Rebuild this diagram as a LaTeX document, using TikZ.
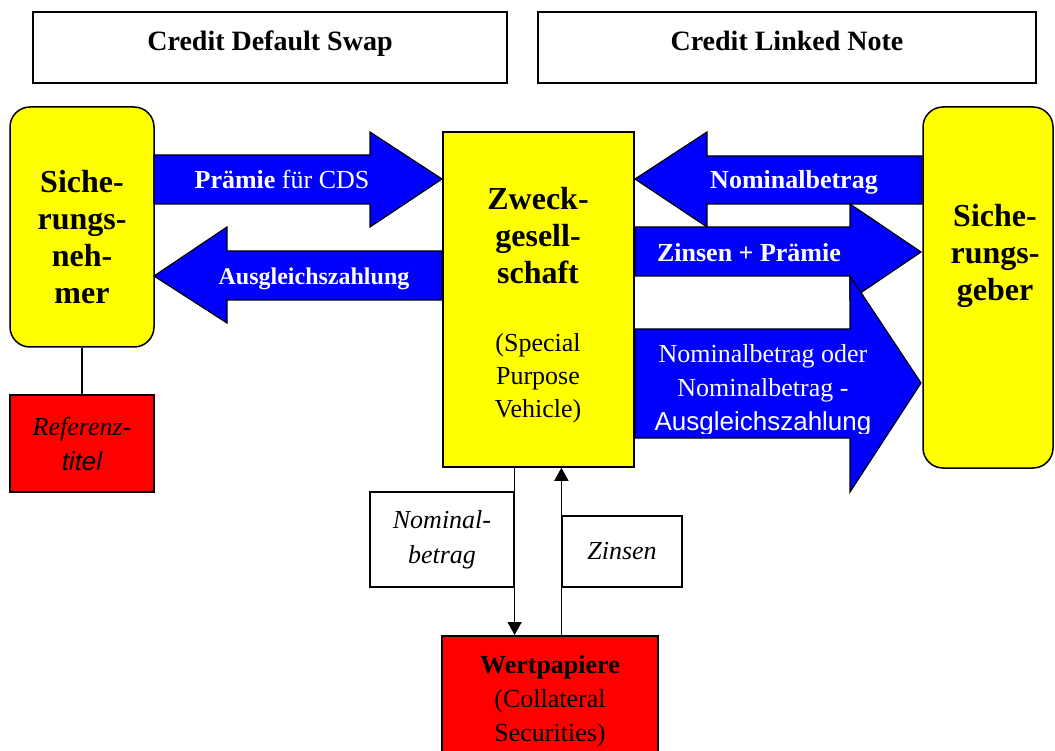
\documentclass[tikz,border=0pt]{standalone}
\usepackage{fontspec}
\setmainfont{Liberation Serif}
\setsansfont{Liberation Sans}
\usetikzlibrary{arrows.meta, positioning, calc}
\definecolor{cYellow}{RGB}{255,255,0}
\definecolor{cBlue}{RGB}{0,0,255}
\definecolor{cRed}{RGB}{255,0,0}

\begin{document}
\begin{tikzpicture}[x=1pt, y=-1pt,
    titlebox/.style={draw=black, line width=1.8pt, minimum height=71pt, inner sep=0pt,
      text height=20pt, text depth=13pt, font=\fontsize{28}{32}\selectfont\bfseries},
    party/.style={draw=black, line width=1.5pt, fill=cYellow, rounded corners=20pt, inner sep=0pt},
    spvbox/.style={draw=black, line width=1.5pt, fill=cYellow, inner sep=0pt},
    redbox/.style={draw=black, line width=1.5pt, fill=cRed, inner sep=0pt, align=center,
      font=\fontsize{26}{35}\selectfont},
    notebox/.style={draw=black, line width=1.2pt, fill=white, inner sep=0pt, align=center,
      font=\fontsize{26}{35}\selectfont\itshape},
    bigtxt/.style={inner sep=0pt, align=center, font=\fontsize{32}{37}\selectfont\bfseries},
    arrowlbl/.style={inner sep=0pt, text=white, align=center, font=\fontsize{26}{34}\selectfont},
    blockarrow/.style={draw=black, line width=1.2pt, fill=cBlue, line join=miter},
    flow/.style={line width=1.5pt, -{Triangle[length=13pt, width=14pt]}}]
  \useasboundingbox (0,0) rectangle (1055,751);

  % Kopfzeilen
  \node[titlebox, minimum width=474pt] (cds) at (270,47.5) {Credit Default Swap};
  \node[titlebox, minimum width=498pt] (cln) at (787,47.5) {Credit Linked Note};

  % Beteiligte
  \node[party, minimum width=144pt, minimum height=240pt] (nehmer) at (82,227) {};
  \node[party, minimum width=130pt, minimum height=361pt] (geber) at (988,287.5) {};
  \node[spvbox, minimum width=191pt, minimum height=335pt] (spv) at (538.5,299.5) {};
  \node[redbox, minimum width=144pt, minimum height=97pt] (ref) at (82,443.5)
    {{\itshape Referenz-}\\{\sffamily\itshape titel}};
  \node[redbox, minimum width=216pt, minimum height=160pt, anchor=north] (wp) at (550,635) {};

  \node[bigtxt] (nehmertxt) at (82,237.5) {Siche-\\rungs-\\neh-\\mer};
  \node[bigtxt] (gebertxt) at (995,255.5) {Siche-\\rungs-\\geber};
  \node[bigtxt] (spvtxt) at (538,236) {Zweck-\\gesell-\\schaft};
  \node[inner sep=0pt, align=center, font=\fontsize{26}{33}\selectfont] (spvsub) at (538,378.5)
    {(Special\\Purpose\\Vehicle)};
  \node[inner sep=0pt, align=center, font=\fontsize{26}{34}\selectfont] (wptxt) at (550,701)
    {\textbf{Wertpapiere}\\(Collateral\\Securities)};

  % Zahlungsstroeme CDS
  \draw[blockarrow] (154,155) -- (370,155) -- (370,132) -- (442,179) -- (370,227)
    -- (370,204) -- (154,204) -- cycle;
  \draw[blockarrow] (442,251) -- (227,251) -- (227,227) -- (154,276) -- (227,323)
    -- (227,300) -- (442,300) -- cycle;
  \node[arrowlbl, anchor=base] (praemie) at (282,189) {\textbf{Prämie} für CDS};
  \node[arrowlbl, anchor=base, font=\fontsize{24}{28}\selectfont\bfseries] (ausgl) at (314,285)
    {Ausgleichszahlung};

  % Zahlungsstroeme CLN
  \draw[blockarrow] (922,156) -- (707,156) -- (707,132) -- (635,179) -- (707,227)
    -- (707,204) -- (922,204) -- cycle;
  \draw[blockarrow] (635,227) -- (850,227) -- (850,204) -- (921,252) -- (850,300)
    -- (850,276) -- (635,276) -- cycle;
  \draw[blockarrow] (635,329) -- (850,329) -- (850,276) -- (921,383) -- (850,492)
    -- (850,438) -- (635,438) -- cycle;
  \node[arrowlbl, anchor=base, font=\fontsize{26}{34}\selectfont\bfseries] (nomb) at (794,189)
    {Nominalbetrag};
  \node[arrowlbl, anchor=base, font=\fontsize{26}{34}\selectfont\bfseries] (zinsp) at (749,262)
    {Zinsen + Prämie};
  \begin{scope}
    \clip (635,329) rectangle (921,433);
    \node[arrowlbl] (rueck) at (763,390)
      {Nominalbetrag oder\\Nominalbetrag -\\{\sffamily Ausgleichszahlung}};
  \end{scope}

  % Sicherheiten
  \node[notebox, minimum width=144pt, minimum height=95pt] (nomlbl) at (442,539.5)
    {Nominal-\\betrag};
  \node[notebox, minimum width=120pt, minimum height=71pt] (zinslbl) at (622,551.5) {Zinsen};
  \draw[line width=1.2pt] (nehmer) -- (ref);
  \draw[flow] (spv.south -| nomlbl.east) -- (wp.north -| nomlbl.east);
  \draw[flow] (wp.north -| zinslbl.west) -- (spv.south -| zinslbl.west);
\end{tikzpicture}
\end{document}
